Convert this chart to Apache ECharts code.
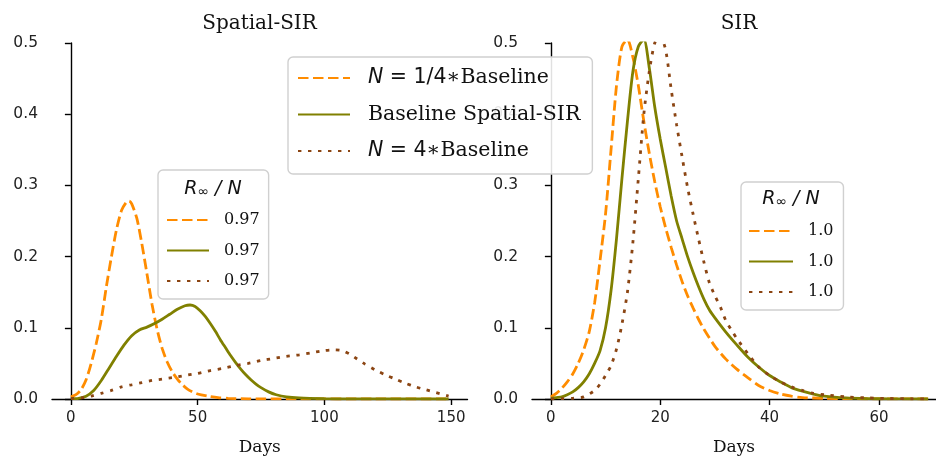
<!DOCTYPE html>
<html>
<head>
<meta charset="utf-8">
<script src="https://cdn.jsdelivr.net/npm/echarts@6/dist/echarts.min.js"></script>
<style>html,body{margin:0;padding:0;background:#fff;}#c{width:936px;height:458px;}</style>
</head>
<body>
<div id="c"></div>
<script>
// ---- Data ----
const leftTitle = 'Spatial-SIR';
const rightTitle = 'SIR';
const xLabel = 'Days';
const yTicks = [0, 0.1, 0.2, 0.3, 0.4, 0.5];
const leftXTicks = [0, 50, 100, 150];
const rightXTicks = [0, 20, 40, 60];

const mainLegendLabels = ['N = 1/4∗Baseline', 'Baseline Spatial-SIR', 'N = 4∗Baseline'];
const leftRatios = ['0.97', '0.97', '0.97'];
const rightRatios = ['1.0', '1.0', '1.0'];

// Left panel (Spatial-SIR)
const lQuarterDays = [0,2,4,6,8,10,12,14,16,18,20,22,23,24,26,28,30,32,34,36,38,40,42,44,46,48,50,54,58,62,70,90,120,149];
const lQuarterVals = [0.003,0.006,0.013,0.027,0.05,0.078,0.112,0.158,0.2,0.238,0.265,0.277,0.278,0.274,0.254,0.218,0.176,0.133,0.098,0.071,0.052,0.038,0.028,0.02,0.014,0.01,0.007,0.004,0.002,0.001,0.0003,0.0001,0,0];

const lBaseDays = [0,3,6,9,12,15,18,21,24,27,30,33,36,39,42,45,47,49,51,53,55,57,59,61,63,65,67,69,71,73,75,78,81,85,90,100,110,120,149];
const lBaseVals = [0.0005,0.001,0.004,0.012,0.026,0.043,0.06,0.076,0.089,0.097,0.101,0.106,0.112,0.119,0.126,0.131,0.132,0.13,0.124,0.116,0.106,0.095,0.083,0.072,0.061,0.051,0.042,0.034,0.027,0.021,0.016,0.01,0.006,0.003,0.0015,0.0005,0.0002,0.0001,0];

const lFourDays = [0,5,8,12,16,20,24,28,32,36,40,45,50,55,60,65,70,75,80,85,90,95,100,104,107,110,113,116,120,124,128,132,136,140,144,149];
const lFourVals = [0.0005,0.002,0.004,0.008,0.012,0.017,0.02,0.023,0.026,0.028,0.03,0.033,0.036,0.04,0.043,0.047,0.05,0.054,0.057,0.06,0.062,0.065,0.068,0.069,0.068,0.063,0.056,0.049,0.041,0.034,0.028,0.022,0.017,0.013,0.009,0.004];

// Right panel (SIR)
const rQuarterDays = [0,1,2,3,4,5,6,7,8,9,10,11,12,13,14,15,16,17,18,19,20,21,22,23,24,25,26,27,28,30,32,34,36,38,40,42,44,46,50,55,60,69];
const rQuarterVals = [0.003,0.008,0.015,0.024,0.035,0.05,0.069,0.094,0.135,0.195,0.26,0.35,0.44,0.495,0.505,0.48,0.44,0.39,0.345,0.305,0.27,0.24,0.213,0.188,0.165,0.145,0.128,0.112,0.098,0.074,0.056,0.042,0.03,0.019,0.012,0.007,0.004,0.002,0.001,0.0005,0.0002,0];

const rBaseDays = [0,1,2,3,4,5,6,7,8,9,10,11,12,13,14,15,16,17,18,19,20,21,22,23,24,25,26,27,28,29,30,32,34,36,38,40,42,44,46,48,50,54,58,62,69];
const rBaseVals = [0.001,0.002,0.003,0.006,0.01,0.016,0.024,0.035,0.05,0.068,0.1,0.152,0.225,0.31,0.39,0.46,0.495,0.505,0.465,0.41,0.365,0.325,0.285,0.25,0.225,0.2,0.178,0.158,0.14,0.125,0.114,0.094,0.076,0.059,0.045,0.033,0.024,0.016,0.011,0.007,0.004,0.0015,0.0006,0.0002,0];

const rFourDays = [0,2,4,6,8,9,10,11,12,13,14,15,16,17,18,19,20,21,22,23,24,25,26,27,28,29,30,31,32,33,34,36,38,40,42,44,46,48,50,54,58,62,66,69];
const rFourVals = [0,0.0005,0.001,0.003,0.012,0.021,0.033,0.047,0.07,0.105,0.15,0.22,0.31,0.4,0.46,0.5,0.51,0.49,0.435,0.385,0.34,0.297,0.26,0.225,0.192,0.163,0.145,0.129,0.11,0.097,0.085,0.064,0.045,0.033,0.024,0.017,0.012,0.008,0.006,0.003,0.0015,0.0007,0.0003,0];

// ---- Styling ----
const C_ORANGE = '#ff8c00';
const C_OLIVE = '#808000';
const C_BROWN = '#8b4513';
const LW = 2.8;
const DASH = [10.5, 4.5];
const DOT = [3.4, 6.6];
const SANS = 'DejaVu Sans';
const SERIF = 'DejaVu Serif';

function pairs(xs, ys) { return xs.map((x, i) => [x, ys[i]]); }

const names = {
  lq: 'Spatial-SIR N = 1/4∗Baseline', lb: 'Spatial-SIR Baseline', lf: 'Spatial-SIR N = 4∗Baseline',
  rq: 'SIR N = 1/4∗Baseline', rb: 'SIR Baseline', rf: 'SIR N = 4∗Baseline'
};

function mkSeries(name, idx, data, color, type) {
  return {
    name, type: 'line', xAxisIndex: idx, yAxisIndex: idx, data,
    symbol: 'none', smooth: 0.25, clip: true, silent: true, animation: false,
    lineStyle: { color, width: LW, type, cap: 'butt' },
    itemStyle: { color }
  };
}

function xAxis(idx, min, max, ticks) {
  return {
    type: 'value', gridIndex: idx, min, max,
    splitLine: { show: false },
    axisLine: { show: true, onZero: false, lineStyle: { color: '#000', width: 1.4 } },
    axisTick: { show: true, length: 6, lineStyle: { color: '#000', width: 1.4 }, customValues: ticks },
    axisLabel: { customValues: ticks, color: '#222', fontFamily: SANS, fontSize: 15, margin: 12, formatter: v => String(v) },
    name: xLabel, nameLocation: 'middle', nameGap: 40,
    nameTextStyle: { fontFamily: SERIF, fontSize: 17, color: '#111' }
  };
}
function yAxis(idx) {
  return {
    type: 'value', gridIndex: idx, min: 0, max: 0.5, interval: 0.1,
    splitLine: { show: false },
    axisLine: { show: true, lineStyle: { color: '#000', width: 1.4 } },
    axisTick: { show: true, length: 6, lineStyle: { color: '#000', width: 1.4 } },
    axisLabel: { color: '#222', fontFamily: SANS, fontSize: 15.5, margin: 14, formatter: v => v.toFixed(1) }
  };
}

const legendBox = {
  orient: 'vertical', selectedMode: false,
  backgroundColor: 'rgba(255,255,255,0.88)', borderColor: '#d0d0d0', borderWidth: 1.4, borderRadius: 5,
  itemStyle: { opacity: 0 }
};

const mainRich = {
  it: { fontFamily: SANS, fontStyle: 'italic', fontSize: 20.5, color: '#111' },
  m: { fontFamily: SANS, fontSize: 20.5, color: '#111' },
  s: { fontFamily: SERIF, fontSize: 20.5, color: '#111' }
};
const mainFmt = {};
mainFmt[names.lq] = '{it|N}{m| = 1/4}{s|∗Baseline}';
mainFmt[names.lb] = '{s|' + mainLegendLabels[1] + '}';
mainFmt[names.lf] = '{it|N}{m| = 4}{s|∗Baseline}';

const leftFmt = {}; leftFmt[names.lq] = leftRatios[0]; leftFmt[names.lb] = leftRatios[1]; leftFmt[names.lf] = leftRatios[2];
const rightFmt = {}; rightFmt[names.rq] = rightRatios[0]; rightFmt[names.rb] = rightRatios[1]; rightFmt[names.rf] = rightRatios[2];

const ratioTitle = {
  text: '{r|R}{sub|∞}{r| / N}', align: 'center', verticalAlign: 'middle',
  rich: { r: { fontFamily: SANS, fontStyle: 'italic', fontSize: 19, fill: '#111', color: '#111' },
          sub: { fontFamily: SANS, fontSize: 14, fill: '#111', color: '#111', padding: [7, 0, 0, 0] } }
};

const chart = echarts.init(document.getElementById('c'), null, { renderer: 'canvas' });
chart.setOption({
  animation: false,
  backgroundColor: '#ffffff',
  grid: [
    { left: 52, top: 43, width: 415.5, height: 356, containLabel: false, outerBoundsMode: 'none' },
    { left: 532, top: 43, width: 404, height: 356, containLabel: false, outerBoundsMode: 'none' }
  ],
  xAxis: [xAxis(0, -7.45, 156.45, leftXTicks), xAxis(1, -3.45, 70.43, rightXTicks)],
  yAxis: [yAxis(0), yAxis(1)],
  legend: [
    Object.assign({}, legendBox, {
      left: 288, top: 57, z: 20,
      data: [names.lq, names.lb, names.lf],
      itemWidth: 52, itemHeight: 14, itemGap: 12.5,
      padding: [9, 12, 11, 9],
      formatter: n => mainFmt[n],
      textStyle: { rich: mainRich, lineHeight: 24, padding: [0, 0, 0, 13] }
    }),
    Object.assign({}, legendBox, {
      left: 158, top: 170, z: 20,
      data: [names.lq, names.lb, names.lf],
      itemWidth: 42, itemHeight: 14, itemGap: 10.5,
      padding: [40, 9, 8, 8],
      formatter: n => leftFmt[n],
      textStyle: { fontFamily: SERIF, fontSize: 16, color: '#111', lineHeight: 20, padding: [0, 0, 0, 10] }
    }),
    Object.assign({}, legendBox, {
      left: 741, top: 182, z: 20,
      data: [names.rq, names.rb, names.rf],
      itemWidth: 44, itemHeight: 14, itemGap: 10.5,
      padding: [39, 10, 8, 7],
      formatter: n => rightFmt[n],
      textStyle: { fontFamily: SERIF, fontSize: 16, color: '#111', lineHeight: 20, padding: [0, 0, 0, 10] }
    })
  ],
  graphic: [
    { type: 'text', z: 100, x: 259.5, y: 24, style: { text: leftTitle, font: '20px "DejaVu Serif"', fill: '#111', align: 'center', verticalAlign: 'middle' } },
    { type: 'text', z: 100, x: 739, y: 24, style: { text: rightTitle, font: '20px "DejaVu Serif"', fill: '#111', align: 'center', verticalAlign: 'middle' } },
    { type: 'text', z: 100, x: 213, y: 189, style: Object.assign({}, ratioTitle) },
    { type: 'text', z: 100, x: 791, y: 199, style: Object.assign({}, ratioTitle) }
  ],
  series: [
    mkSeries(names.lq, 0, pairs(lQuarterDays, lQuarterVals), C_ORANGE, DASH),
    mkSeries(names.lb, 0, pairs(lBaseDays, lBaseVals), C_OLIVE, 'solid'),
    mkSeries(names.lf, 0, pairs(lFourDays, lFourVals), C_BROWN, DOT),
    mkSeries(names.rq, 1, pairs(rQuarterDays, rQuarterVals), C_ORANGE, DASH),
    mkSeries(names.rb, 1, pairs(rBaseDays, rBaseVals), C_OLIVE, 'solid'),
    mkSeries(names.rf, 1, pairs(rFourDays, rFourVals), C_BROWN, DOT)
  ]
});
</script>
</body>
</html>
